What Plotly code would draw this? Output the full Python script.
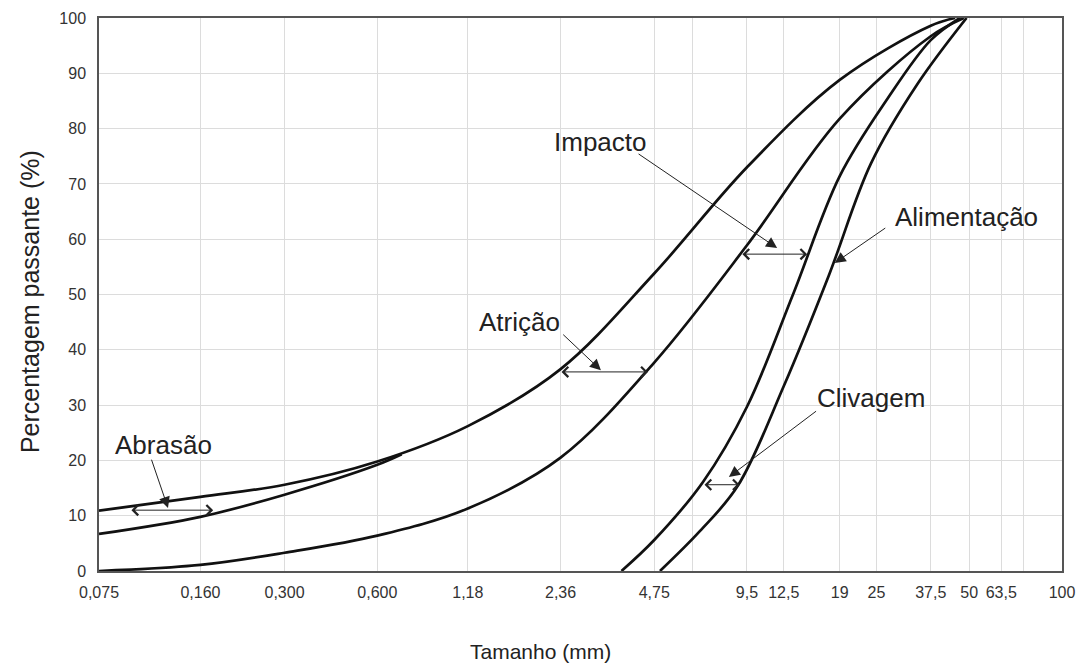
import numpy as np
import plotly.graph_objects as go

# ---------------- data ----------------
tick_sizes = [0.075, 0.160, 0.300, 0.600, 1.18, 2.36, 4.75, 6.3, 9.5, 12.5, 19, 25, 37.5, 50, 63.5, 75, 100]
tick_labels = ["0,075", "0,160", "0,300", "0,600", "1,18", "2,36", "4,75", "", "9,5", "12,5",
               "19", "25", "37,5", "50", "63,5", "", "100"]
y_ticks = [0, 10, 20, 30, 40, 50, 60, 70, 80, 90, 100]

# Abrasão (upper curve, continues as the leftmost curve)
abr_sup_size = [0.075, 0.16, 0.3, 0.6, 1.18, 2.36, 4.75, 9.5, 19, 37.5, 45]
abr_sup_pass = [10.9, 13.4, 15.6, 19.8, 26.2, 36.5, 53.8, 73.0, 88.8, 98.6, 100]

# Abrasão (lower curve, joins the upper one)
abr_inf_size = [0.075, 0.16, 0.3, 0.6, 0.72]
abr_inf_pass = [6.7, 9.8, 13.8, 19.2, 21.1]

# Atrição / Impacto curve
atr_size = [0.075, 0.16, 0.3, 0.6, 1.18, 2.36, 4.75, 9.5, 19, 37.5, 48]
atr_pass = [0.0, 1.1, 3.3, 6.4, 11.3, 20.5, 37.7, 58.9, 81.8, 96.7, 100]

# Impacto / Clivagem curve
imp_size = [3.72, 4.75, 6.84, 9.5, 13.4, 19, 27, 37.5, 46.6]
imp_pass = [0.0, 5.6, 16.1, 29.7, 50.0, 71.4, 85.2, 96.0, 100]

# Alimentação curve
ali_size = [4.96, 6.68, 8.87, 12.5, 17.5, 24, 34, 49]
ali_pass = [0.0, 7.2, 15.4, 33.4, 53.4, 73.7, 88.1, 100]

# labels: text, size, % (label centre)
label_text = ["Abrasão", "Atrição", "Impacto", "Clivagem", "Alimentação"]
label_size = [0.121, 1.74, 3.17, 24.0, 49.1]
label_pass = [22.8, 45.0, 77.6, 31.3, 64.0]

# pointer arrows: tail (size, %) -> tip (size, %)
ptr_tail_size = [0.1106, 2.38, 4.18, 16.1, 27.0]
ptr_tail_pass = [20.4, 43.0, 75.6, 29.1, 62.2]
ptr_tip_size = [0.1256, 3.19, 11.9, 8.3, 18.3]
ptr_tip_pass = [11.4, 36.3, 58.4, 17.0, 55.7]

# double arrows: left size, right size, %
dbl_left = [0.0945, 2.35, 9.08, 6.84]
dbl_right = [0.176, 4.53, 14.9, 9.0]
dbl_pass = [11.0, 36.0, 57.3, 15.6]

# ---------------- figure ----------------
FONT = "Liberation Sans, Arial, Helvetica, sans-serif"
LINE = dict(color="#111111", width=2.7, shape="spline", smoothing=1.0)

fig = go.Figure()
for xs, ys in [(abr_sup_size, abr_sup_pass), (abr_inf_size, abr_inf_pass),
               (atr_size, atr_pass), (imp_size, imp_pass), (ali_size, ali_pass)]:
    fig.add_trace(go.Scatter(x=xs, y=ys, mode="lines", line=LINE,
                             hoverinfo="skip", showlegend=False))

lg = np.log10
annots = []
for t, s, p in zip(label_text, label_size, label_pass):
    annots.append(dict(x=lg(s), y=p, xref="x", yref="y", text=t, showarrow=False,
                       font=dict(family=FONT, size=26, color="#222"),
                       xanchor="center", yanchor="middle"))
for ts, tp, hs, hp in zip(ptr_tail_size, ptr_tail_pass, ptr_tip_size, ptr_tip_pass):
    annots.append(dict(x=lg(hs), y=hp, ax=lg(ts), ay=tp, xref="x", yref="y",
                       axref="x", ayref="y", text="", showarrow=True,
                       arrowhead=2, arrowsize=2.2, arrowwidth=1, arrowcolor="#222"))
for l, r, p in zip(dbl_left, dbl_right, dbl_pass):
    annots.append(dict(x=lg(r), y=p, ax=lg(l), ay=p, xref="x", yref="y",
                       axref="x", ayref="y", text="", showarrow=True,
                       arrowhead=4, startarrowhead=4, arrowside="end+start",
                       arrowsize=2.0, startarrowsize=2.0, arrowwidth=1,
                       arrowcolor="#222"))

# axis titles (centred as in the original figure)
annots.append(dict(x=0.4585, y=-0.1447, xref="paper", yref="paper", text="Tamanho (mm)",
                   showarrow=False, font=dict(family=FONT, size=21, color="#222"),
                   xanchor="center", yanchor="middle"))
annots.append(dict(x=-0.0717, y=0.488, xref="paper", yref="paper",
                   text="Percentagem passante (%)", textangle=-90,
                   showarrow=False, font=dict(family=FONT, size=25, color="#222"),
                   xanchor="center", yanchor="middle"))

fig.update_layout(
    width=1081, height=664,
    margin=dict(l=99, r=19, t=18, b=93),
    paper_bgcolor="white", plot_bgcolor="white",
    font=dict(family=FONT, color="#333"),
    annotations=annots,
    xaxis=dict(
        type="log", range=[lg(0.075), lg(100)], automargin=False,
        tickvals=tick_sizes, ticktext=tick_labels,
        tickfont=dict(size=16, color="#333"),
        ticks="outside", ticklen=6, tickcolor="rgba(0,0,0,0)",
        showgrid=True, gridcolor="#dcdcdc", gridwidth=1,
        showline=True, linecolor="#555", linewidth=1.5, mirror=True,
        zeroline=False,
    ),
    yaxis=dict(
        range=[0, 100], tickvals=y_ticks, automargin=False,
        tickfont=dict(size=16, color="#333"),
        ticks="outside", ticklen=8, tickcolor="rgba(0,0,0,0)",
        showgrid=True, gridcolor="#dcdcdc", gridwidth=1,
        showline=True, linecolor="#555", linewidth=1.5, mirror=True,
        zeroline=False,
    ),
)

fig.write_html("out.html")
